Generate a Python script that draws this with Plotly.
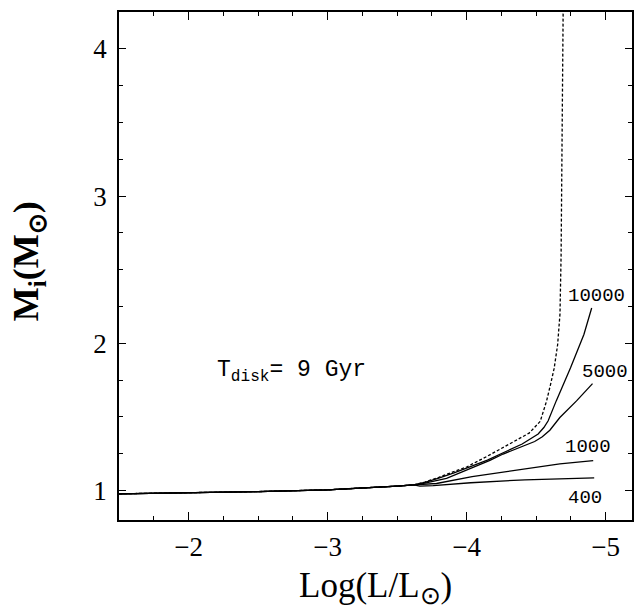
import plotly.graph_objects as go

# Common trunk (all curves coincide here)
trunk_x = [-1.5, -2.0, -2.5, -3.0, -3.3, -3.5, -3.62]
trunk_y = [0.978, 0.985, 0.993, 1.005, 1.018, 1.030, 1.038]

# Dashed limiting curve
dash_x = [-3.70, -3.80, -3.90, -4.00, -4.143, -4.30, -4.45, -4.53, -4.576, -4.604, -4.630, -4.655, -4.672, -4.680, -4.685, -4.690, -4.696]
dash_y = [1.058, 1.090, 1.125, 1.160, 1.230, 1.310, 1.390, 1.470, 1.610, 1.720, 1.830, 1.990, 2.200, 2.600, 3.200, 3.800, 4.400]

# Solid curves (labelled)
c10000_x = [-3.70, -3.80, -3.91, -4.15, -4.40, -4.515, -4.556, -4.587, -4.645, -4.748, -4.844, -4.900]
c10000_y = [1.055, 1.085, 1.120, 1.207, 1.316, 1.384, 1.428, 1.474, 1.609, 1.834, 2.060, 2.240]

c5000_x = [-3.70, -3.856, -4.024, -4.168, -4.263, -4.40, -4.49, -4.545, -4.599, -4.671, -4.791, -4.906]
c5000_y = [1.050, 1.083, 1.147, 1.205, 1.248, 1.298, 1.333, 1.365, 1.410, 1.496, 1.609, 1.726]

c1000_x = [-3.68, -3.784, -4.04, -4.42, -4.671, -4.911]
c1000_y = [1.040, 1.048, 1.095, 1.147, 1.181, 1.203]

c400_x = [-3.664, -3.760, -4.03, -4.42, -4.918]
c400_y = [1.030, 1.033, 1.053, 1.073, 1.086]

labels = ["10000", "5000", "1000", "400"]
label_x = [-4.935, -4.996, -4.875, -4.851]
label_y = [2.319, 1.806, 1.298, 0.949]

x_ticks = [-2, -3, -4, -5]
y_ticks = [1, 2, 3, 4]

fig = go.Figure()

fig.add_trace(go.Scatter(x=trunk_x + dash_x, y=trunk_y + dash_y, mode="lines",
                         line=dict(color="black", width=1.3, dash="3px,2px")))
for cx, cy in [(c10000_x, c10000_y), (c5000_x, c5000_y), (c1000_x, c1000_y), (c400_x, c400_y)]:
    fig.add_trace(go.Scatter(x=trunk_x + cx, y=trunk_y + cy, mode="lines",
                             line=dict(color="black", width=1.3)))

for t, lx, ly in zip(labels, label_x, label_y):
    fig.add_annotation(x=lx, y=ly, text=t, showarrow=False, xanchor="center", yanchor="middle",
                       font=dict(family="Liberation Mono", size=19, color="black"))

fig.add_annotation(x=-2.19, y=1.81, text="T<sub>disk</sub>= 9 Gyr", showarrow=False,
                   xanchor="left", yanchor="middle",
                   font=dict(family="Liberation Mono", size=23, color="black"))

# Axis titles
fig.add_annotation(xref="paper", yref="paper", x=0.5, y=-0.132, text="Log(L/L<sub>⊙</sub>)",
                   showarrow=False, xanchor="center", yanchor="middle",
                   font=dict(family="Liberation Serif", size=35, color="black"))
fig.add_annotation(xref="paper", yref="paper", x=-0.175, y=0.51, text="<b>M<sub>i</sub>(M<sub>⊙</sub>)</b>",
                   showarrow=False, xanchor="center", yanchor="middle", textangle=-90,
                   font=dict(family="Liberation Serif", size=36, color="black"))

axis_common = dict(showgrid=False, zeroline=False, showline=True, linecolor="black", linewidth=1.5,
                   mirror="ticks", ticks="inside", tickcolor="black", tickwidth=1.3,
                   tickfont=dict(family="Liberation Serif", size=27, color="black"))

fig.update_xaxes(range=[-1.5, -5.19], tickvals=x_ticks, ticklen=8, ticklabelstandoff=2,
                 minor=dict(dtick=0.25, tick0=0, ticks="inside", ticklen=4, tickcolor="black", tickwidth=1.2),
                 **axis_common)
fig.update_yaxes(range=[0.8, 4.25], tickvals=y_ticks, ticklen=7, ticklabelstandoff=5,
                 minor=dict(dtick=0.25, tick0=0, ticks="inside", ticklen=4, tickcolor="black", tickwidth=1.2),
                 **axis_common)

fig.update_layout(width=644, height=608, margin=dict(l=119, r=12, t=10, b=88),
                  paper_bgcolor="white", plot_bgcolor="white", showlegend=False)

fig.write_html("out.html")
